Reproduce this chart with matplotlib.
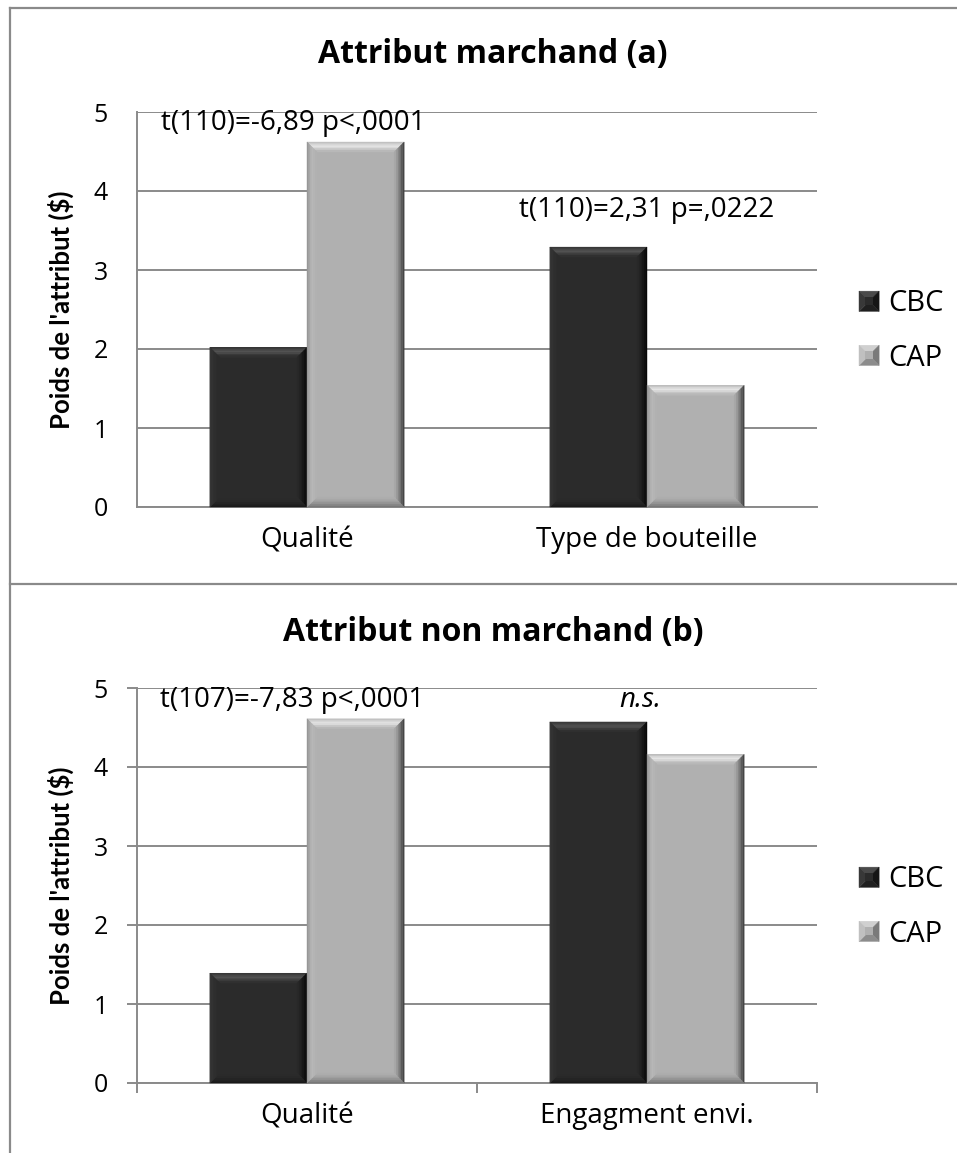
import matplotlib
matplotlib.use("Agg")
import matplotlib.pyplot as plt
from matplotlib.patches import Polygon, Patch
from matplotlib.lines import Line2D
from matplotlib.legend_handler import HandlerBase
import numpy as np

plt.rcParams['font.family'] = ['Open Sans', 'DejaVu Sans']

# ---------------- data ----------------
series = ["CBC", "CAP"]
colors = ["#2b2b2b", "#b0b0b0"]

titles = ["Attribut marchand (a)", "Attribut non marchand (b)"]
cats_a = ["Qualité", "Type de bouteille"]
cbc_a = [2.02, 3.29]
cap_a = [4.62, 1.54]
notes_a = ["t(110)=-6,89 p<,0001", "t(110)=2,31 p=,0222"]
note_pos_a = [(-0.04, 4.86), (1.0, 3.76)]

cats_b = ["Qualité", "Engagment envi."]
cbc_b = [1.39, 4.57]
cap_b = [4.61, 4.16]
notes_b = ["t(107)=-7,83 p<,0001", "n.s."]
note_pos_b = [(-0.045, 4.85), (0.98, 4.85)]
note_style_b = ["normal", "italic"]

yticks = [0, 1, 2, 3, 4, 5]
ylabel = "Poids de l'attribut ($)"

W, H = 957, 1153
fig = plt.figure(figsize=(W / 100, H / 100), dpi=100)

GRID = "#8a8a8a"
# bevel shading profiles (outer edge -> inner) for each bar colour
PROFILES = {
    "#2b2b2b": dict(
        top=["#3a3a3a", "#474747", "#525252", "#4a4a4a", "#3a3a3a", "#303030"],
        right=["#080808", "#0f0f0f", "#161616", "#1d1d1d", "#232323", "#282828"],
        bottom=["#191919", "#202020", "#242424", "#282828", "#2a2a2a", "#2b2b2b"],
        left=["#363636", "#333333", "#303030", "#2e2e2e", "#2c2c2c", "#2b2b2b"],
    ),
    "#b0b0b0": dict(
        top=["#c2c2c2", "#d6d6d6", "#e4e4e4", "#dadada", "#c6c6c6", "#b8b8b8"],
        right=["#454545", "#5a5a5a", "#707070", "#868686", "#9a9a9a", "#a8a8a8"],
        bottom=["#787878", "#878787", "#939393", "#9e9e9e", "#a7a7a7", "#adadad"],
        left=["#979797", "#a6a6a6", "#b2b2b2", "#b7b7b7", "#b4b4b4", "#b1b1b1"],
    ),
}
LEG_SHADES = {
    "#2b2b2b": dict(top="#4a4a4a", right="#151515", bottom="#1f1f1f", left="#383838"),
    "#b0b0b0": dict(top="#d0d0d0", right="#7a7a7a", bottom="#8c8c8c", left="#c0c0c0"),
}


def bevel(ax, rects, color, d=10):
    prof = PROFILES[color]
    for r in rects:
        x0, y0 = ax.transData.transform((r.get_x(), r.get_y()))
        x1, y1 = ax.transData.transform((r.get_x() + r.get_width(), r.get_y() + r.get_height()))
        dd = min(d, (y1 - y0) / 2.5)
        for side, cols in prof.items():
            n = len(cols)
            for i, c in enumerate(cols):
                a, b = dd * i / n, dd * (i + 1) / n
                if side == "top":
                    p = [(x0 + a, y1 - a), (x1 - a, y1 - a), (x1 - b, y1 - b), (x0 + b, y1 - b)]
                elif side == "right":
                    p = [(x1 - a, y1 - a), (x1 - a, y0 + a), (x1 - b, y0 + b), (x1 - b, y1 - b)]
                elif side == "bottom":
                    p = [(x0 + a, y0 + a), (x1 - a, y0 + a), (x1 - b, y0 + b), (x0 + b, y0 + b)]
                else:
                    p = [(x0 + a, y0 + a), (x0 + a, y1 - a), (x0 + b, y1 - b), (x0 + b, y0 + b)]
                fig.patches.append(Polygon(p, closed=True, facecolor=c, edgecolor=c, lw=0.3,
                                           transform=None, figure=fig, zorder=5))


class BevelHandler(HandlerBase):
    def __init__(self, color):
        super().__init__()
        self.color = color

    def create_artists(self, legend, orig_handle, xdescent, ydescent, width, height,
                       fontsize, trans):
        x0, y0 = -xdescent, -ydescent
        x1, y1 = x0 + width, y0 + height
        cx, cy = (x0 + x1) / 2, (y0 + y1) / 2
        s = LEG_SHADES[self.color]
        tris = {
            "top": [(x0, y1), (x1, y1), (cx, cy)],
            "right": [(x1, y1), (x1, y0), (cx, cy)],
            "bottom": [(x1, y0), (x0, y0), (cx, cy)],
            "left": [(x0, y0), (x0, y1), (cx, cy)],
        }
        arts = []
        for k, p in tris.items():
            pg = Polygon(p, closed=True, facecolor=s[k], edgecolor=s[k], lw=0.3)
            pg.set_transform(trans)
            arts.append(pg)
        inner = Polygon([(x0 + width * 0.3, y0 + height * 0.3), (x1 - width * 0.3, y0 + height * 0.3),
                         (x1 - width * 0.3, y1 - height * 0.3), (x0 + width * 0.3, y1 - height * 0.3)],
                        closed=True, facecolor=self.color, edgecolor="none")
        inner.set_transform(trans)
        arts.append(inner)
        return arts


def panel(rect, title, cats, cbc, cap, notes, note_pos, styles, with_ticks, title_y, leg_y):
    ax = fig.add_axes(rect)
    ax.set_xlim(-0.5, 1.5)
    ax.set_ylim(0, 5)
    x = np.arange(len(cats))
    w = 1 / 3.5
    r1 = ax.bar(x - w / 2, cbc, w, color=colors[0], zorder=3)
    r2 = ax.bar(x + w / 2, cap, w, color=colors[1], zorder=3)
    ax.set_yticks(yticks)
    ax.set_yticklabels([str(v) for v in yticks])
    ax.yaxis.grid(True, color=GRID, lw=1.4, zorder=0)
    ax.set_axisbelow(True)
    ax.set_xticks(x)
    ax.set_xticklabels(cats, fontsize=20)
    for s in ["top", "right"]:
        ax.spines[s].set_visible(False)
    for s in ["left", "bottom"]:
        ax.spines[s].set_color(GRID)
        ax.spines[s].set_linewidth(1.4)
    ax.tick_params(axis="x", length=0, pad=14)
    if with_ticks:
        ax.tick_params(axis="y", length=7, width=1.4, color=GRID, pad=14, labelsize=18)
        ax.set_xticks([-0.5, 0.5, 1.5], minor=True)
        ax.tick_params(axis="x", which="minor", length=7, width=1.4, color=GRID)
    else:
        ax.tick_params(axis="y", length=0, pad=21, labelsize=18)
    ax.set_ylabel(ylabel, fontsize=18.5, fontweight="bold", family=["Lato", "DejaVu Sans"])
    ax.yaxis.set_label_coords(-0.092, 0.5)
    for txt, (px, py), st in zip(notes, note_pos, styles):
        ax.text(px, py, txt, ha="center", va="center", fontsize=20, style=st, zorder=6)
    fig.text(0.515, title_y, title, ha="center", va="center", fontsize=23, fontweight="bold")
    handles = [Patch(facecolor=c) for c in colors]
    hmap = {h: BevelHandler(c) for h, c in zip(handles, colors)}
    fig.legend(handles, series, loc="center left", bbox_to_anchor=(859 / W, leg_y),
               frameon=False, fontsize=21, handlelength=0.69, handleheight=0.69,
               handletextpad=0.32, labelspacing=0.86, borderpad=0, borderaxespad=0,
               handler_map=hmap)
    return ax, (r1, colors[0]), (r2, colors[1])


left = 137 / W
width = 680 / W
hgt = 395 / H
ax1, *b1 = panel([left, 1 - 507 / H, width, hgt], titles[0], cats_a, cbc_a, cap_a, notes_a,
                 note_pos_a, ["normal", "normal"], False, 1 - 55 / H, 1 - 331 / H)
ax2, *b2 = panel([left, 1 - 1083 / H, width, hgt], titles[1], cats_b, cbc_b, cap_b, notes_b,
                 note_pos_b, note_style_b, True, 1 - 633 / H, 1 - 907 / H)

for ax, bl in [(ax1, b1), (ax2, b2)]:
    for rects, c in bl:
        bevel(ax, rects, c)

# frame lines of the chart areas
for ln in [
    Line2D([10 / W, 10 / W], [0, 1 - 8 / H]),
    Line2D([10 / W, 1], [1 - 8 / H, 1 - 8 / H]),
    Line2D([10 / W, 1], [1 - 584 / H, 1 - 584 / H]),
]:
    ln.set_color(GRID)
    ln.set_linewidth(1.6)
    ln.set_transform(fig.transFigure)
    fig.lines.append(ln)

fig.savefig("out.png", dpi=100)
